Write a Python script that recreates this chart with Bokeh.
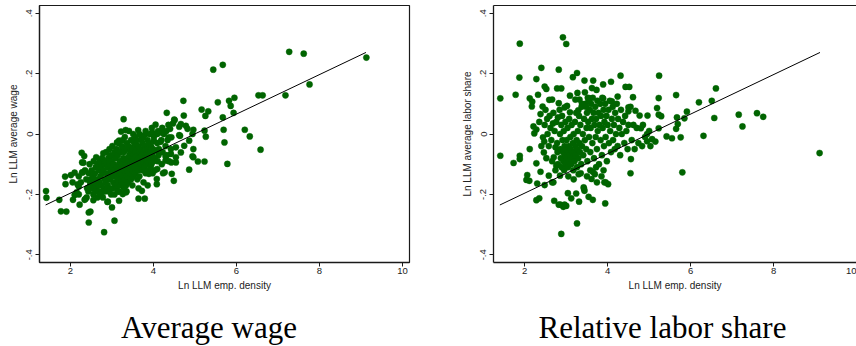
from bokeh.plotting import figure
from bokeh.models import Range1d, FixedTicker, LinearAxis, Label
from bokeh.layouts import row, column
from bokeh.embed import file_html
from bokeh.resources import INLINE

# ---------------- data ----------------
x_ticks = [2, 4, 6, 8, 10]
y_ticks = [-0.4, -0.2, 0, 0.2, 0.4]
y_tick_labels = ["-.4", "-.2", "0", ".2", ".4"]

x_label = "Ln LLM emp. density"
wage_label = "Ln LLM average wage"
share_label = "Ln LLM average labor share"
captions = ["Average wage", "Relative labor share"]

# fitted line (same in both panels)
fit_x = [1.40, 9.12]
fit_y = [-0.235, 0.270]

wage_points = [
    (1.41, -0.189), (1.42, -0.211), (1.73, -0.218), (1.77, -0.256), (1.90, -0.257),
    (1.87, -0.141), (1.88, -0.166), (2.01, -0.136), (2.10, -0.128), (2.06, -0.218),
    (2.10, -0.202), (2.17, -0.167), (2.15, -0.193), (2.22, -0.234), (2.27, -0.062),
    (2.33, -0.073), (2.31, -0.095), (2.28, -0.127), (2.34, -0.218), (2.39, -0.210),
    (2.44, -0.293), (2.48, -0.257), (2.62, -0.077), (2.55, -0.219), (2.81, -0.325),
    (2.79, -0.064), (2.89, -0.225), (3.00, -0.243), (3.06, -0.287), (3.28, 0.049),
    (3.18, -0.191), (3.35, -0.190), (3.33, 0.013), (3.63, 0.013), (3.64, -0.214),
    (3.79, -0.214), (4.05, 0.031), (4.32, 0.070), (4.72, 0.110), (4.73, 0.061),
    (4.50, 0.048), (4.49, -0.155), (4.86, -0.118), (4.62, -0.004), (4.96, 0.014),
    (4.96, -0.077), (4.96, -0.050), (5.07, -0.091), (5.16, 0.081), (5.23, -0.091),
    (5.25, 0.060), (5.32, 0.075), (5.23, 0.011), (5.26, -0.009), (5.44, 0.213),
    (5.67, 0.229), (5.55, 0.105), (5.67, 0.055), (5.69, 0.014), (5.71, -0.028),
    (5.78, -0.099), (5.82, 0.110), (5.86, 0.093), (5.95, 0.120), (5.93, 0.070),
    (6.20, 0.014), (6.32, -0.008), (6.58, -0.052), (6.53, 0.128), (6.63, 0.128),
    (7.18, 0.128), (7.27, 0.272), (7.62, 0.266), (7.76, 0.164), (9.13, 0.253),
    (4.51, 0.046), (4.47, 0.035), (4.66, 0.033), (4.78, 0.027), (4.82, 0.017),
    (4.40, 0.017), (4.62, 0.024), (4.17, 0.005), (4.25, 0.000), (4.09, 0.000),
    (3.97, 0.005), (4.94, 0.000), (4.64, -0.006), (4.43, -0.011), (4.37, -0.011),
    (4.86, -0.022), (4.17, -0.026), (4.01, -0.023), (4.13, -0.050), (4.74, -0.039),
    (4.54, -0.044), (4.42, -0.050), (4.66, -0.061), (4.42, -0.066), (4.29, -0.074),
    (4.05, -0.055), (4.54, -0.077), (4.29, -0.088), (4.54, -0.094), (4.94, -0.074),
    (3.22, 0.008), (3.17, -0.022), (3.12, -0.028), (3.71, -0.006), (3.81, 0.000),
    (3.50, -0.022), (3.25, -0.050), (3.45, -0.044), (3.59, -0.039), (2.94, -0.050),
    (3.02, -0.072), (2.28, -0.094), (2.94, -0.088), (2.20, -0.174), (2.30, -0.127),
    (2.36, -0.215), (2.44, -0.260), (2.46, -0.155), (2.58, -0.171), (2.70, -0.193),
    (2.90, -0.224), (3.17, -0.221), (3.26, -0.199), (3.34, -0.193), (3.72, -0.188),
    (3.89, -0.132), (4.08, -0.149), (4.08, -0.166), (4.43, -0.094), (4.09, -0.116),
    (4.27, -0.127), (4.44, -0.132),
    (2.46, -0.10), (2.44, -0.13), (2.47, -0.17), (2.43, -0.19),
    (2.51, -0.12), (2.49, -0.15), (2.52, -0.18),
    (2.56, -0.09), (2.54, -0.14), (2.57, -0.16), (2.55, -0.20),
    (2.61, -0.11), (2.59, -0.13), (2.62, -0.18), (2.60, -0.19),
    (2.66, -0.10), (2.64, -0.15), (2.67, -0.17), (2.65, -0.21),
    (2.71, -0.09), (2.69, -0.12), (2.72, -0.14), (2.70, -0.16), (2.68, -0.19),
    (2.76, -0.08), (2.74, -0.11), (2.77, -0.13), (2.75, -0.17), (2.73, -0.20),
    (2.81, -0.10), (2.79, -0.12), (2.82, -0.15), (2.80, -0.18), (2.78, -0.21),
    (2.86, -0.06), (2.84, -0.09), (2.87, -0.13), (2.85, -0.16), (2.83, -0.19),
    (2.91, -0.08), (2.89, -0.11), (2.92, -0.14), (2.90, -0.17), (2.88, -0.18),
    (2.96, -0.07), (2.94, -0.10), (2.97, -0.12), (2.95, -0.15), (2.93, -0.19), (2.98, -0.20),
    (3.01, -0.04), (2.99, -0.09), (3.02, -0.11), (3.00, -0.13), (3.03, -0.16), (3.01, -0.18),
    (3.06, -0.06), (3.04, -0.10), (3.07, -0.12), (3.05, -0.14), (3.08, -0.17), (3.06, -0.20),
    (3.11, -0.05), (3.09, -0.08), (3.12, -0.11), (3.10, -0.13), (3.13, -0.15), (3.11, -0.18),
    (3.16, -0.03), (3.14, -0.07), (3.17, -0.10), (3.15, -0.12), (3.18, -0.14), (3.16, -0.16), (3.14, -0.19),
    (3.21, -0.06), (3.19, -0.09), (3.22, -0.11), (3.20, -0.13), (3.23, -0.15), (3.21, -0.17),
    (3.26, -0.02), (3.24, -0.04), (3.27, -0.08), (3.25, -0.10), (3.28, -0.12), (3.26, -0.14), (3.24, -0.16),
    (3.31, -0.01), (3.29, -0.06), (3.32, -0.09), (3.30, -0.11), (3.33, -0.13), (3.31, -0.15), (3.29, -0.18),
    (3.36, -0.03), (3.34, -0.05), (3.37, -0.08), (3.35, -0.10), (3.38, -0.12), (3.36, -0.14), (3.34, -0.17),
    (3.41, 0.01), (3.39, -0.04), (3.42, -0.07), (3.40, -0.09), (3.43, -0.11), (3.41, -0.13), (3.39, -0.16),
    (3.46, -0.02), (3.44, -0.06), (3.47, -0.08), (3.45, -0.10), (3.48, -0.12), (3.46, -0.15),
    (3.51, 0.00), (3.49, -0.05), (3.52, -0.07), (3.50, -0.09), (3.53, -0.11), (3.51, -0.14), (3.49, -0.17),
    (3.56, -0.01), (3.54, -0.03), (3.57, -0.06), (3.55, -0.08), (3.58, -0.10), (3.56, -0.13),
    (3.61, -0.02), (3.59, -0.05), (3.62, -0.07), (3.60, -0.09), (3.63, -0.12), (3.61, -0.15),
    (3.66, 0.00), (3.64, -0.04), (3.67, -0.06), (3.65, -0.08), (3.68, -0.11), (3.66, -0.14), (3.64, -0.18),
    (3.71, -0.02), (3.69, -0.05), (3.72, -0.07), (3.70, -0.10), (3.73, -0.12),
    (3.76, -0.01), (3.74, -0.03), (3.77, -0.06), (3.75, -0.09), (3.78, -0.11), (3.76, -0.16),
    (3.81, 0.01), (3.79, -0.04), (3.82, -0.06), (3.80, -0.08), (3.83, -0.10), (3.81, -0.13),
    (3.86, -0.02), (3.84, -0.05), (3.87, -0.07), (3.85, -0.09), (3.88, -0.12), (3.86, -0.17),
    (3.91, 0.00), (3.89, -0.03), (3.92, -0.06), (3.90, -0.08), (3.93, -0.11),
    (3.96, 0.02), (3.94, -0.04), (3.97, -0.07), (3.95, -0.10), (3.98, -0.13),
    (4.01, -0.01), (3.99, -0.05), (4.02, -0.08), (4.00, -0.09), (4.03, -0.12),
    (4.11, 0.01), (4.09, -0.03), (4.12, -0.07), (4.10, -0.09),
    (4.21, 0.02), (4.19, -0.02), (4.22, -0.06), (4.20, -0.10), (4.23, -0.13),
    (4.31, 0.01), (4.29, -0.04), (4.32, -0.07),
    (4.36, 0.03), (4.34, -0.02), (4.37, -0.09),
    (2.05, -0.16), (2.20, -0.14), (2.25, -0.16), (2.35, -0.12), (2.38, -0.15),
    (2.40, -0.18), (2.20, -0.20),
]

share_points = [
    (1.41, 0.118), (1.41, -0.072), (1.78, 0.130), (1.73, -0.096), (1.88, 0.299),
    (1.87, 0.187), (1.88, -0.072), (1.88, -0.083), (2.04, -0.152), (2.11, -0.155),
    (2.06, -0.136), (2.12, -0.050), (2.12, 0.118), (2.17, 0.091), (2.18, 0.107),
    (2.21, 0.025), (2.28, 0.015), (2.23, 0.002), (2.28, -0.097), (2.28, 0.182),
    (2.32, 0.130), (2.40, 0.219), (2.38, 0.066), (2.30, -0.164), (2.28, -0.219),
    (2.35, -0.213), (2.38, -0.125), (2.43, 0.091), (2.48, 0.157), (2.52, 0.149),
    (2.48, 0.030), (2.44, -0.011), (2.47, -0.025), (2.46, -0.061), (2.48, -0.169),
    (2.54, 0.050), (2.59, 0.113), (2.66, 0.114), (2.68, 0.035), (2.58, -0.138),
    (2.66, -0.160), (2.71, -0.221), (2.78, 0.151), (2.88, 0.151), (2.82, 0.213),
    (2.82, 0.102), (2.80, 0.055), (2.74, -0.044), (2.70, -0.077), (2.76, -0.105),
    (2.82, -0.234), (2.88, -0.331), (2.92, 0.320), (3.00, 0.298), (2.93, -0.241),
    (3.00, -0.238), (2.96, 0.088), (3.02, 0.093), (3.04, -0.196), (3.12, -0.213),
    (3.16, 0.188), (3.26, 0.202), (3.24, -0.197), (3.26, -0.296), (3.31, -0.224),
    (3.30, -0.133), (3.22, 0.114), (3.32, 0.114), (3.27, 0.136), (3.44, 0.177),
    (3.45, 0.138), (3.42, -0.177), (3.44, -0.188), (3.54, -0.208), (3.64, -0.218),
    (3.65, 0.177), (3.62, 0.152), (3.73, 0.146), (3.57, 0.118), (3.64, -0.125),
    (3.69, -0.133), (3.74, -0.160), (3.61, -0.149), (3.89, 0.164), (3.89, 0.118),
    (3.90, -0.120), (3.92, -0.160), (3.94, -0.230), (4.01, -0.166), (4.08, 0.173),
    (4.10, 0.108), (4.24, 0.124), (4.31, 0.193), (4.43, 0.156), (4.52, 0.156),
    (4.56, -0.083), (4.55, -0.130), (4.61, 0.122), (4.67, 0.077), (4.77, 0.061),
    (4.80, 0.019), (4.83, -0.040), (4.95, 0.000), (4.95, -0.024), (4.96, 0.061),
    (5.07, -0.017), (5.15, -0.025), (5.19, 0.086), (5.23, 0.119), (5.24, 0.193),
    (5.23, 0.064), (5.29, 0.059), (5.23, 0.019), (5.42, -0.008), (5.55, -0.014),
    (5.65, 0.129), (5.67, 0.055), (5.69, 0.033), (5.65, 0.017), (5.76, -0.011),
    (5.80, -0.127), (5.85, 0.052), (5.91, 0.074), (6.20, 0.105), (6.31, -0.006),
    (6.51, 0.110), (6.57, 0.053), (6.61, 0.151), (7.16, 0.064), (7.25, 0.025),
    (7.60, 0.069), (7.75, 0.057), (9.11, -0.063),
    (2.69, -0.160), (2.85, -0.138), (3.43, -0.182), (2.86, -0.234), (2.96, -0.234),
    (3.09, 0.127), (3.09, 0.072), (3.29, 0.078), (4.50, 0.088), (4.50, 0.075),
    (2.62, 0.02), (2.64, -0.02), (2.66, -0.09), (2.69, 0.07), (2.72, 0.01),
    (2.74, -0.12), (2.76, 0.04), (2.78, -0.03), (2.79, -0.06), (2.80, -0.10),
    (2.84, 0.08), (2.85, 0.00), (2.86, -0.05), (2.87, -0.08), (2.88, 0.03),
    (2.89, -0.11), (2.90, 0.06), (2.91, -0.02), (2.92, -0.06), (2.93, -0.09),
    (2.94, 0.01), (2.95, -0.12), (2.96, -0.04), (2.97, -0.07), (2.98, 0.04),
    (2.99, -0.10), (3.00, -0.05), (3.01, -0.02), (3.02, -0.08), (3.03, 0.02),
    (3.04, -0.11), (3.05, -0.06), (3.06, -0.04), (3.07, 0.05), (3.08, -0.09),
    (3.09, -0.07), (3.10, -0.01), (3.11, -0.05), (3.12, -0.10), (3.13, 0.03),
    (3.14, -0.06), (3.15, -0.08), (3.16, -0.03), (3.17, -0.12), (3.18, 0.00),
    (3.19, -0.06), (3.20, -0.09), (3.21, 0.04), (3.22, -0.04), (3.23, -0.07),
    (3.24, 0.07), (3.25, -0.02), (3.26, -0.11), (3.27, -0.05), (3.28, 0.01),
    (3.29, -0.08), (3.31, 0.06), (3.32, -0.03), (3.33, -0.06), (3.34, 0.03),
    (3.36, -0.10), (3.37, 0.09), (3.38, -0.04), (3.40, 0.00), (3.41, -0.07),
    (3.43, 0.05), (3.45, -0.02), (3.46, 0.10), (3.48, -0.05), (3.49, 0.02),
    (3.50, 0.07), (3.51, -0.09), (3.53, 0.04), (3.54, 0.11), (3.55, -0.01),
    (3.57, 0.08), (3.58, -0.06), (3.59, 0.02), (3.60, 0.10), (3.62, 0.05),
    (3.63, -0.03), (3.64, 0.12), (3.66, 0.07), (3.67, -0.08), (3.68, 0.03),
    (3.70, 0.09), (3.71, -0.01), (3.72, 0.05), (3.74, -0.05), (3.75, 0.11),
    (3.76, 0.01), (3.78, 0.07), (3.79, -0.10), (3.80, 0.03), (3.82, 0.10),
    (3.83, -0.02), (3.84, 0.06), (3.86, -0.07), (3.87, 0.12), (3.88, 0.02),
    (3.90, 0.08), (3.91, -0.04), (3.92, 0.04), (3.94, 0.10), (3.95, -0.01),
    (3.97, 0.06), (3.98, -0.09), (4.00, 0.03), (4.02, 0.08), (4.03, -0.03),
    (4.05, 0.11), (4.06, 0.01), (4.08, -0.06), (4.10, 0.05), (4.12, 0.09),
    (4.13, -0.02), (4.15, 0.03), (4.17, -0.05), (4.18, 0.07), (4.20, 0.00),
    (4.22, 0.10), (4.24, -0.04), (4.25, 0.05), (4.28, 0.02), (4.30, -0.07),
    (4.32, 0.08), (4.34, 0.00), (4.37, 0.04), (4.40, -0.03), (4.42, 0.06),
    (4.45, 0.01), (4.48, -0.05), (4.50, 0.03), (4.55, 0.09), (4.58, -0.02),
    (4.62, 0.03), (4.65, -0.05), (4.70, 0.02), (4.74, -0.03), (4.85, 0.03),
    (4.90, -0.01), (5.00, 0.01), (5.03, -0.04), (3.48, 0.09), (3.52, 0.12),
    (3.38, 0.10), (3.05, -0.14), (3.18, -0.15), (3.35, -0.13), (3.50, -0.14),
    (3.58, -0.12), (3.72, -0.11), (3.85, -0.14), (3.95, -0.16), (2.35, 0.04),
    (2.40, -0.04), (2.50, 0.08), (2.52, -0.08), (2.55, 0.00), (2.58, -0.04),
    (2.60, 0.06),
]

GREEN = "#006400"
AXIS_COLOR = "#1a1a1a"
SANS = "Liberation Sans"
PANEL_H = 300
CAP_H = 46


def make_panel(points, ylabel, width, b_left, b_right, x_start, x_end, full_box):
    p = figure(width=width, height=PANEL_H,
               x_range=Range1d(x_start, x_end), y_range=Range1d(-0.4255, 0.4255),
               output_backend="svg", toolbar_location=None,
               min_border_left=b_left, min_border_right=b_right,
               min_border_top=5, min_border_bottom=38)
    p.grid.visible = False
    p.background_fill_color = "white"
    p.border_fill_color = "white"

    xs = [pt[0] for pt in points]
    ys = [pt[1] for pt in points]
    p.scatter(xs, ys, size=6.2, fill_color=GREEN, line_color=GREEN, line_width=0.4)
    p.line(fit_x, fit_y, line_color="black", line_width=1)

    xa = p.below[0]
    xa.ticker = FixedTicker(ticks=x_ticks)
    ya = p.left[0]
    ya.ticker = FixedTicker(ticks=y_ticks)
    ya.major_label_overrides = {t: s for t, s in zip(y_ticks, y_tick_labels)}
    ya.major_label_orientation = "vertical"
    for ax in (xa, ya):
        ax.axis_line_color = AXIS_COLOR
        ax.axis_line_width = 1.3
        ax.major_tick_line_color = AXIS_COLOR
        ax.major_tick_out = 4
        ax.major_tick_in = 0
        ax.minor_tick_out = 0
        ax.minor_tick_in = 0
        ax.major_label_text_font = SANS
        ax.major_label_text_font_size = "9.5px"
        ax.major_label_text_color = "#222222"
        ax.axis_label_text_font = SANS
        ax.axis_label_text_font_size = "10px"
        ax.axis_label_text_font_style = "normal"
        ax.axis_label_text_color = "#222222"
    xa.axis_label = x_label
    xa.major_label_standoff = 1
    xa.axis_label_standoff = 3
    ya.axis_label = ylabel
    ya.major_label_standoff = 3
    ya.axis_label_standoff = 5

    if full_box:
        p.outline_line_color = AXIS_COLOR
        p.outline_line_width = 1.2
        p.outline_line_alpha = 1.0
    else:
        p.outline_line_color = None
        top = LinearAxis(ticker=FixedTicker(ticks=[]))
        top.axis_line_color = AXIS_COLOR
        top.axis_line_width = 1.2
        top.major_tick_out = 0
        top.major_tick_in = 0
        top.minor_tick_out = 0
        top.minor_tick_in = 0
        top.major_label_text_font_size = "0px"
        top.major_label_standoff = 0
        top.axis_label = None
        p.add_layout(top, "above")
    return p


def make_caption(text, width, cx, cy):
    c = figure(width=width, height=CAP_H,
               x_range=Range1d(0, width), y_range=Range1d(0, CAP_H),
               output_backend="svg", toolbar_location=None,
               x_axis_location=None, y_axis_location=None, min_border=0)
    c.grid.visible = False
    c.outline_line_color = None
    c.background_fill_color = "white"
    c.border_fill_color = "white"
    c.add_layout(Label(x=cx, y=cy, text=text,
                       text_align="center", text_baseline="alphabetic",
                       text_font="Liberation Serif", text_font_size="31px",
                       text_color="black"))
    return c


# caption anchor positions inside the caption strips (pixels of each strip)
caption_x = [208.5, 232.0]
caption_y = 19

p1 = make_panel(wage_points, wage_label, 430, 39, 21, 1.253, 10.169, True)
p2 = make_panel(share_points, share_label, 426, 63, 0, 1.246, 10.0, False)
c1 = make_caption(captions[0], 430, caption_x[0], caption_y)
c2 = make_caption(captions[1], 426, caption_x[1], caption_y)

layout = column(row(p1, p2), row(c1, c2))
open("out.html", "w").write(file_html(layout, INLINE))
